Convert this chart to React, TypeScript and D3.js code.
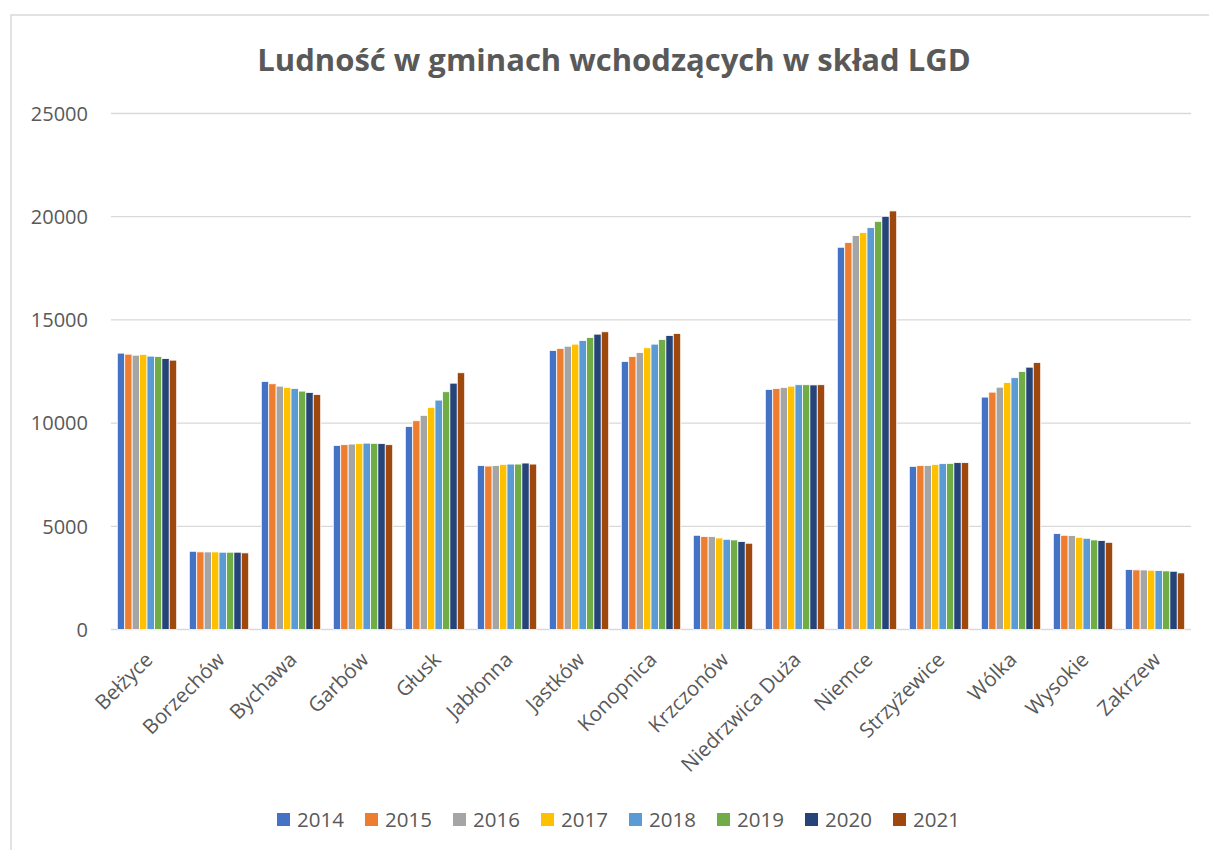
import React from "react";
import * as d3 from "d3";

const categories = [
  "Bełżyce", "Borzechów", "Bychawa", "Garbów", "Głusk", "Jabłonna", "Jastków",
  "Konopnica", "Krzczonów", "Niedrzwica Duża", "Niemce", "Strzyżewice", "Wólka",
  "Wysokie", "Zakrzew",
];
const years = ["2014", "2015", "2016", "2017", "2018", "2019", "2020", "2021"];
const colors = ["#4472C4", "#ED7D31", "#A5A5A5", "#FFC000", "#5B9BD5", "#70AD47", "#264478", "#9E480E"];

const belzyce = [13390, 13340, 13290, 13325, 13245, 13230, 13130, 13050];
const borzechow = [3790, 3760, 3758, 3758, 3745, 3745, 3745, 3712];
const bychawa = [12020, 11905, 11790, 11730, 11680, 11550, 11485, 11390];
const garbow = [8920, 8955, 8985, 9005, 9030, 9020, 9005, 8955];
const glusk = [9840, 10115, 10375, 10760, 11115, 11520, 11935, 12440];
const jablonna = [7940, 7920, 7940, 8000, 8015, 8015, 8065, 8015];
const jastkow = [13520, 13615, 13725, 13825, 14005, 14150, 14310, 14425];
const konopnica = [12985, 13230, 13420, 13650, 13825, 14050, 14245, 14340];
const krzczonow = [4565, 4505, 4500, 4435, 4370, 4340, 4260, 4180];
const niedrzwica = [11630, 11680, 11730, 11790, 11860, 11860, 11850, 11860];
const niemce = [18520, 18745, 19085, 19230, 19470, 19775, 20020, 20280];
const strzyzewice = [7905, 7940, 7950, 8000, 8035, 8050, 8085, 8085];
const wolka = [11260, 11500, 11740, 11970, 12200, 12500, 12710, 12940];
const wysokie = [4645, 4565, 4550, 4470, 4420, 4340, 4310, 4225];
const zakrzew = [2905, 2888, 2886, 2872, 2858, 2838, 2822, 2742];

const seriesByCategory = [
  belzyce, borzechow, bychawa, garbow, glusk, jablonna, jastkow, konopnica,
  krzczonow, niedrzwica, niemce, strzyzewice, wolka, wysokie, zakrzew,
];
const yTicks = [0, 5000, 10000, 15000, 20000, 25000];
const title = "Ludność w gminach wchodzących w skład LGD";

const W = 1209;
const H = 850;
const plotLeft = 111;
const plotRight = 1191;
const plotTop = 113.5;
const plotBottom = 629.5;
const FONT = "'Open Sans', 'Noto Sans', sans-serif";
const TEXT = "#595959";

export default function App() {
  const x0 = d3
    .scaleBand<string>()
    .domain(categories)
    .range([plotLeft, plotRight])
    .paddingInner(0.175)
    .paddingOuter(0.0875);
  const x1 = d3.scaleBand<string>().domain(years).range([0, x0.bandwidth()]).padding(0);
  const y = d3.scaleLinear().domain([0, 25000]).range([plotBottom, plotTop]);

  const legendStart = 277;
  const legendStep = 88;

  return (
    <svg
      width={W}
      height={H}
      style={{ position: "absolute", left: 0, top: 0, background: "#fff" }}
    >
      <rect x={0} y={0} width={W} height={H} fill="#fff" />
      <rect x={11} y={15} width={W + 20} height={H + 20} fill="#fff" stroke="#D9D9D9" strokeWidth={1.5} />
      <text
        x={614}
        y={71}
        textAnchor="middle"
        fontFamily={FONT}
        fontWeight="bold"
        fontSize={31}
        fill={TEXT}
      >
        {title}
      </text>
      {yTicks.map((t) => (
        <g key={t}>
          <line x1={plotLeft} x2={plotRight} y1={y(t)} y2={y(t)} stroke="#D9D9D9" strokeWidth={1.3} />
          <text
            x={88}
            y={y(t)}
            dy="0.36em"
            textAnchor="end"
            fontFamily={FONT}
            fontSize={20}
            fill={TEXT}
          >
            {t}
          </text>
        </g>
      ))}
      {categories.map((c, ci) => (
        <g key={c} transform={`translate(${x0(c)},0)`}>
          {years.map((yr, yi) => {
            const v = seriesByCategory[ci][yi];
            return (
              <rect
                key={yr}
                x={x1(yr)}
                y={y(v)}
                width={x1.bandwidth()}
                height={y(0) - y(v)}
                fill={colors[yi]}
                stroke="#fff"
                strokeWidth={0.8}
              />
            );
          })}
        </g>
      ))}
      {categories.map((c) => {
        const cx = (x0(c) as number) + x0.bandwidth() / 2;
        return (
          <text
            key={c}
            transform={`translate(${cx + 7},${661}) rotate(-45)`}
            textAnchor="end"
            fontFamily={FONT}
            fontSize={20.5}
            fill={TEXT}
          >
            {c}
          </text>
        );
      })}
      {years.map((yr, i) => (
        <g key={yr} transform={`translate(${legendStart + i * legendStep},813)`}>
          <rect x={0} y={0} width={13} height={13} fill={colors[i]} />
          <text x={20} y={13.5} fontFamily={FONT} fontSize={20.5} fill={TEXT}>
            {yr}
          </text>
        </g>
      ))}
    </svg>
  );
}
